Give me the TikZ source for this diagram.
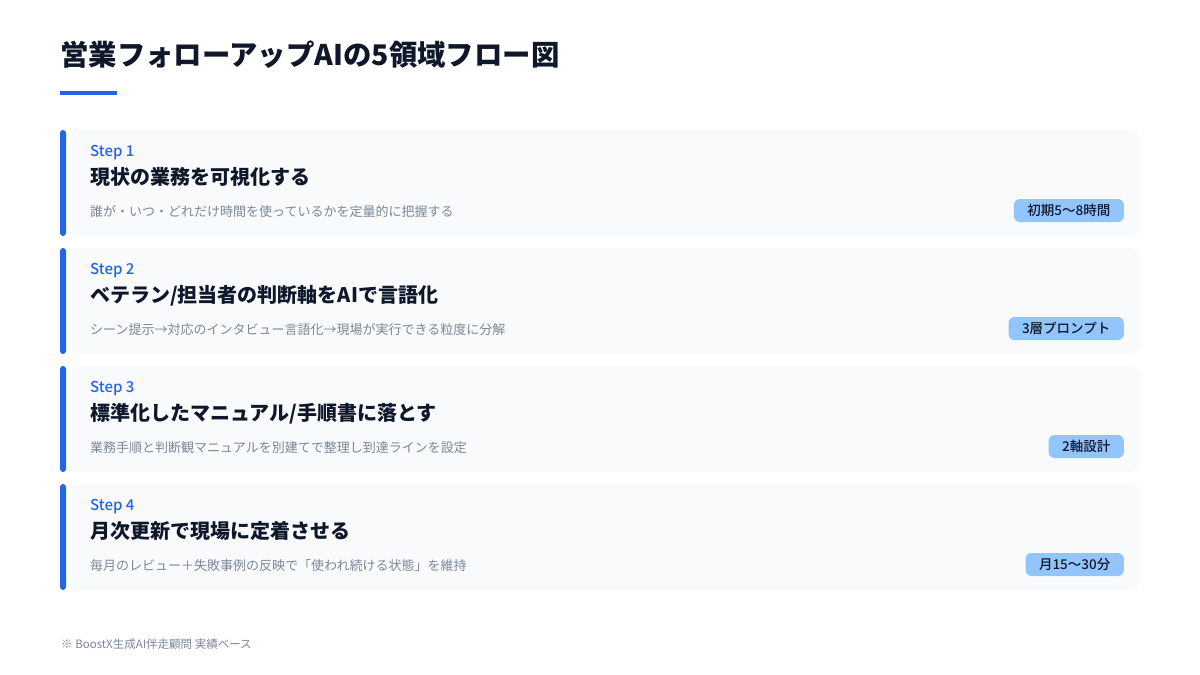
\documentclass[tikz,border=0pt]{standalone}
\usepackage{fontspec}
\setmainfont{Noto Sans CJK JP}
\newfontfamily\medfont{Noto Sans CJK JP Medium}
\usetikzlibrary{positioning}
\definecolor{ink}{HTML}{0F172A}
\definecolor{accentblue}{HTML}{2563EB}
\definecolor{cardbg}{HTML}{F8FAFC}
\definecolor{badgeblue}{HTML}{93C5FD}
\definecolor{muted}{HTML}{7C8798}
\tikzset{
    title/.style = {anchor=base west, inner sep=0pt, text=ink, font=\bfseries\fontsize{28.4}{34}\selectfont},
    titlebar/.style = {rectangle, fill=accentblue, inner sep=0pt, minimum width=57pt, minimum height=4pt},
    card/.style = {rectangle, rounded corners=10pt, fill=cardbg, inner sep=0pt, minimum width=1070pt, minimum height=106pt},
    accent/.style = {rectangle, rounded corners=3pt, fill=accentblue, inner sep=0pt, minimum width=6pt, minimum height=106pt},
    steplabel/.style = {anchor=base west, inner sep=0pt, text=accentblue, font=\medfont\fontsize{15}{18}\selectfont},
    heading/.style = {anchor=base west, inner sep=0pt, text=ink, font=\bfseries\fontsize{20}{24}\selectfont},
    desc/.style = {anchor=base west, inner sep=0pt, text=muted, font=\fontsize{13}{16}\selectfont},
    badge/.style = {anchor=east, rectangle, rounded corners=6pt, fill=badgeblue, text=ink, inner xsep=13.5pt, inner ysep=0pt, minimum height=23pt, font=\medfont\fontsize{13.5}{15}\selectfont},
    footnote/.style = {anchor=base west, inner sep=0pt, text=muted, font=\fontsize{11.5}{14}\selectfont}}

\begin{document}
\begin{tikzpicture}[x=1pt, y=-1pt]
        \useasboundingbox[fill=white] (0,0) rectangle (1200,675);
        \node[title] (head) at (60,65) {営業フォローアップAIの5領域フロー図};
        \node[titlebar] (headbar) at (88.5,92.5) {};
        % step 1
        \node[card] (card1) at (605,183) {};
        \node[accent] (bar1) at (63,183) {};
        \path (90,156) node[steplabel] (s1) {Step 1}
        ++ (0,28.5) node[heading] (h1) {現状の業務を可視化する}
        ++ (0,32) node[desc] (d1) {誰が・いつ・どれだけ時間を使っているかを定量的に把握する};
        \node[badge] (b1) at (1124,210.5) {初期5〜8時間};
        % step 2
        \node[card] (card2) at (605,301) {};
        \node[accent] (bar2) at (63,301) {};
        \path (90,274) node[steplabel] (s2) {Step 2}
        ++ (0,28.5) node[heading] (h2) {ベテラン/担当者の判断軸をAIで言語化}
        ++ (0,32) node[desc] (d2) {シーン提示→対応のインタビュー言語化→現場が実行できる粒度に分解};
        \node[badge] (b2) at (1124,328.5) {3層プロンプト};
        % step 3
        \node[card] (card3) at (605,419) {};
        \node[accent] (bar3) at (63,419) {};
        \path (90,392) node[steplabel] (s3) {Step 3}
        ++ (0,28.5) node[heading] (h3) {標準化したマニュアル/手順書に落とす}
        ++ (0,32) node[desc] (d3) {業務手順と判断観マニュアルを別建てで整理し到達ラインを設定};
        \node[badge] (b3) at (1124,446.5) {2軸設計};
        % step 4
        \node[card] (card4) at (605,537) {};
        \node[accent] (bar4) at (63,537) {};
        \path (90,510) node[steplabel] (s4) {Step 4}
        ++ (0,28.5) node[heading] (h4) {月次更新で現場に定着させる}
        ++ (0,32) node[desc] (d4) {毎月のレビュー＋失敗事例の反映で「使われ続ける状態」を維持};
        \node[badge] (b4) at (1124,564.5) {月15〜30分};
        \node[footnote] (src) at (61,648) {※ BoostX生成AI伴走顧問 実績ベース};
\end{tikzpicture}
\end{document}
